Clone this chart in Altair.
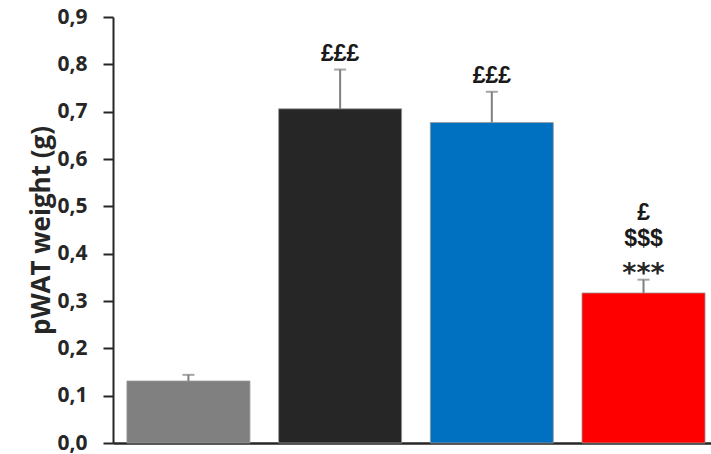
import altair as alt
import pandas as pd

groups = ["G1", "G2", "G3", "G4"]
means = [0.131, 0.706, 0.677, 0.317]
errs = [0.013, 0.083, 0.065, 0.028]
colors = ["#808080", "#262626", "#0070C0", "#FF0000"]
line1 = ["", "£££", "£££", ""]
stars = ["", "", "", "***"]
upper = ["", "", "", "£\n$$$"]

df = pd.DataFrame({"group": groups, "mean": means, "err": errs,
                   "l1": line1, "st": stars, "up": upper})
df["top"] = df["mean"] + df["err"]

xenc = alt.X("group:N", sort=groups,
             scale=alt.Scale(paddingInner=0.189, paddingOuter=0.0655, align=0.7),
             axis=alt.Axis(labels=False, ticks=False, title=None, domainColor="#262626",
                           domainWidth=2.5))

base = alt.Chart(df)

bars = base.mark_bar(stroke="#9a9a9a", strokeWidth=0.8).encode(
    x=xenc,
    y=alt.Y("mean:Q", scale=alt.Scale(domain=[0, 0.9], nice=False),
            axis=alt.Axis(values=[0, 0.1, 0.2, 0.3, 0.4, 0.5, 0.6, 0.7, 0.8, 0.9],
                          labelExpr="replace(format(datum.value, '.1f'), '.', ',')",
                          title="pWAT weight (g)", grid=False,
                          domainColor="#262626", domainWidth=2,
                          tickColor="#262626", tickWidth=2, tickSize=10,
                          labelFont="Open Sans", labelFontWeight="bold", labelFontSize=21,
                          labelColor="#262626", labelPadding=16,
                          titleFont="Open Sans", titleFontWeight="bold", titleFontSize=26,
                          titleColor="#262626", titleAngle=-90, titleX=-72, titleY=213,
                          titleAlign="center", titleBaseline="middle")),
    color=alt.Color("group:N", sort=groups,
                    scale=alt.Scale(domain=groups, range=colors), legend=None),
)

rules = base.mark_rule(color="#7f7f7f", strokeWidth=2).encode(
    x=alt.X("group:N", sort=groups), y="mean:Q", y2="top:Q")
caps = base.mark_tick(color="#7f7f7f", thickness=2, size=12).encode(
    x=alt.X("group:N", sort=groups), y="top:Q")

t1 = base.mark_text(font="Liberation Sans", fontWeight="bold", fontSize=23, color="#1a1a1a",
                    baseline="middle", dy=-15.5).encode(
    x=alt.X("group:N", sort=groups), y="top:Q", text="l1:N")
tst = base.mark_text(font="DejaVu Sans", fontWeight="bold", fontSize=27, color="#262626",
                     baseline="alphabetic", dy=2).encode(
    x=alt.X("group:N", sort=groups), y="top:Q", text="st:N")
tup = base.mark_text(font="Liberation Sans", fontWeight="bold", fontSize=23, color="#1a1a1a",
                     baseline="top", dy=-78, lineBreak="\n", lineHeight=26).encode(
    x=alt.X("group:N", sort=groups), y="top:Q", text="up:N")

chart = alt.layer(bars, rules, caps, t1, tst, tup).properties(
    width=598, height=426,
    autosize=alt.AutoSizeParams(type="none"),
    padding={"left": 113, "top": 17, "right": 0, "bottom": 11},
).configure_view(stroke=None)

chart.save("out.html", embed_options={"renderer": "svg", "actions": False})
